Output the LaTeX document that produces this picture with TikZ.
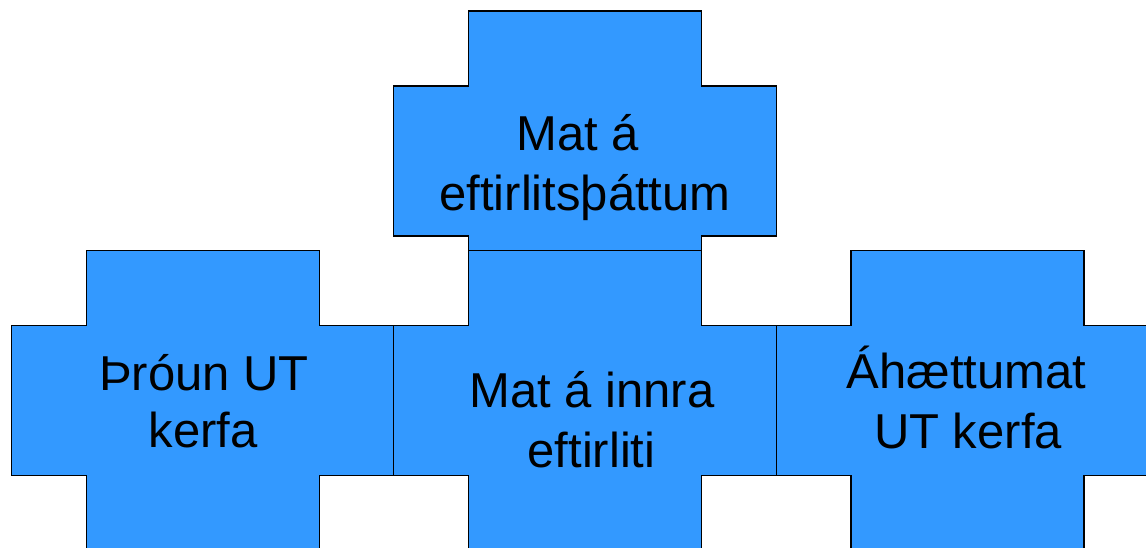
\documentclass[tikz,border=0pt]{standalone}
\usepackage{fontspec}
\setmainfont{Liberation Sans}
\definecolor{crossblue}{HTML}{3399FF}
\tikzset{
  crossbox/.style={fill=crossblue, draw=black, line width=1.1pt, line join=miter},
  lbl/.style={anchor=base, inner sep=0pt, font=\fontsize{49}{59}\selectfont, text=black}
}
% cross outline: top-left corner at (#1,#2), width 383, height 300, bar 233, arm 150
\newcommand{\crosspath}[2]{%
  \filldraw[crossbox, shift={(#1,#2)}]
    (75,0) -- (308,0) -- (308,75) -- (383,75) -- (383,225) -- (308,225)
    -- (308,300) -- (75,300) -- (75,225) -- (0,225) -- (0,75) -- (75,75) -- cycle;}
\begin{document}
\begin{tikzpicture}[x=1pt, y=-1pt]
  \useasboundingbox (0,0) rectangle (1146,547);
  \clip (0,0) rectangle (1146,547);
  % crosses
  \crosspath{393.5}{11}
  \crosspath{11.5}{250.5}
  \crosspath{776}{250.5}
  \crosspath{393.5}{250.5}
  % labels
  \node[lbl] (topa) at (578,150) {Mat á};
  \node[lbl] (topb) at (585,210) {eftirlitsþáttum};
  \node[lbl] (lefta) at (204,390) {Þróun UT};
  \node[lbl] (leftb) at (203,447) {kerfa};
  \node[lbl] (mida) at (592,407) {Mat á innra};
  \node[lbl] (midb) at (591.5,467) {eftirliti};
  \node[lbl] (righta) at (966.5,388) {Áhættumat};
  \node[lbl] (rightb) at (968,448) {UT kerfa};
\end{tikzpicture}
\end{document}
